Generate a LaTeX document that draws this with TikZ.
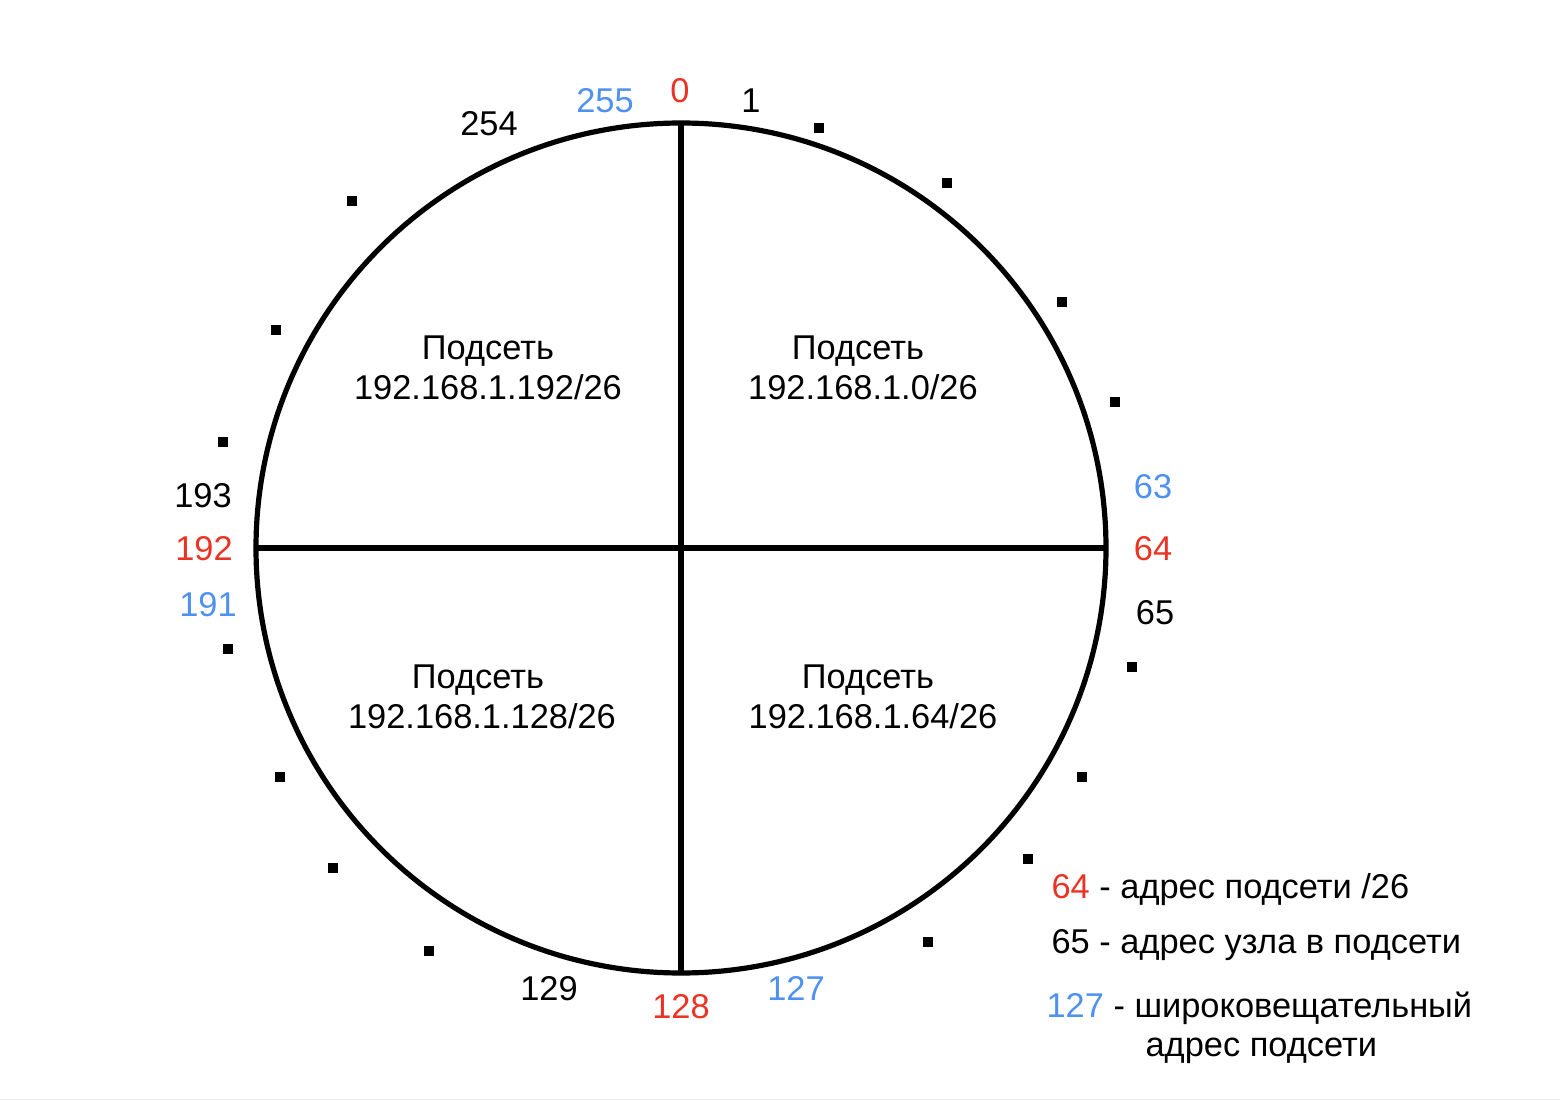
\documentclass[tikz,border=0pt]{standalone}
\usepackage{fontspec}
\setmainfont{Liberation Sans}
\usepackage{xcolor}
\usepackage{tikz}
\usetikzlibrary{positioning}
\definecolor{rojo}{HTML}{EB3324}
\definecolor{azul}{HTML}{4F91F0}

\begin{document}
\begin{tikzpicture}[x=0.5pt, y=-0.5pt, line width=2.6pt, font=\fontsize{17.2}{20}\selectfont]
    \tikzstyle{num}=[inner sep=0pt, anchor=base]
    \tikzstyle{host}=[fill=black, inner sep=0pt, minimum size=5pt]
    \tikzstyle{leyenda}=[inner sep=0pt, anchor=base west]

    \useasboundingbox (0,0) rectangle (1560,1101);
    \draw[black!8, line width=0.5pt] (0,1099.5) -- (1560,1099.5);

    % Circulo y cortes
    \coordinate (c)   at (681,548);
    \coordinate (top) at (681,123);
    \coordinate (bot) at (681,973);
    \coordinate (izq) at (256,548);
    \coordinate (der) at (1106,548);
    \draw (c) circle (425);
    \draw[line width=3pt] (top) -- (bot);
    \draw[line width=3pt] (izq) -- (der);

    % Subredes
    \node[num] (s0a)   at (858,360)  {Подсеть};
    \node[num] (s0b)   at (863,400)  {192.168.1.0/26};
    \node[num] (s64a)  at (868,689)  {Подсеть};
    \node[num] (s64b)  at (873,729)  {192.168.1.64/26};
    \node[num] (s128a) at (478,689)  {Подсеть};
    \node[num] (s128b) at (482,729)  {192.168.1.128/26};
    \node[num] (s192a) at (488,360)  {Подсеть};
    \node[num] (s192b) at (488,400)  {192.168.1.192/26};

    % Puntos de nodos
    \foreach \x/\y [count=\i] in {819/128, 947/183, 1062/302, 1115/402,
                                  1132/667, 1082/777, 1028/859, 928/942,
                                  429/951, 333/868, 280/777, 228/649,
                                  223/442, 276/330, 352/201}
        \node[host] (h\i) at (\x,\y) {};

    % Direcciones
    \node[num, text=azul] (n255) at (605,113)  {255};
    \node[num, text=rojo] (n0)   at (680,103)  {0};
    \node[num]            (n1)   at (751,113)  {1};
    \node[num]            (n254) at (489,136)  {254};
    \node[num, text=azul] (n63)  at (1153,499) {63};
    \node[num, text=rojo] (n64)  at (1153,561) {64};
    \node[num]            (n65)  at (1155,625) {65};
    \node[num]            (n193) at (203,508)  {193};
    \node[num, text=rojo] (n192) at (204,561)  {192};
    \node[num, text=azul] (n191) at (208,617)  {191};
    \node[num]            (n129) at (549,1000) {129};
    \node[num, text=rojo] (n128) at (681,1018) {128};
    \node[num, text=azul] (n127) at (796,1000) {127};

    % Leyenda
    \node[leyenda] (l1) at (1049,898)  {\textcolor{rojo}{64} - адрес подсети /26};
    \node[leyenda] (l2) at (1049,953)  {65 - адрес узла в подсети};
    \node[leyenda] (l3) at (1044,1017) {\textcolor{azul}{127} - широковещательный};
    \node[leyenda] (l4) at (1143,1056) {адрес подсети};
\end{tikzpicture}
\end{document}
